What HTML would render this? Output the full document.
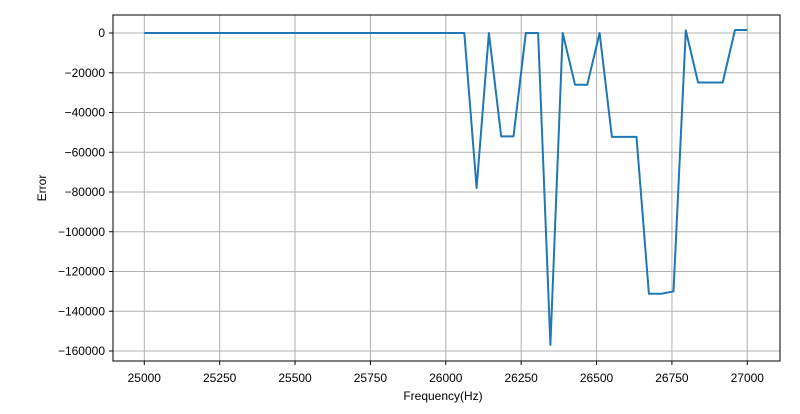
<!DOCTYPE html>
<html><head><meta charset="utf-8"><style>
body{margin:0;background:#fff;}
svg text{font-family:"Liberation Sans","WenQuanYi Zen Hei",sans-serif;font-size:12px;fill:#000;}
</style></head><body>
<svg width="800" height="409" xmlns="http://www.w3.org/2000/svg">
<g id="grid"></g>
<g id="ticks"></g>
<path id="line" fill="none" stroke="#1f77b4" stroke-width="2" stroke-linejoin="round"/>
<rect x="113" y="15" width="667" height="346" fill="none" stroke="#000" stroke-width="1"/>
<text x="443" y="400" text-anchor="middle">Frequency(Hz)</text>
<text transform="translate(46,188) rotate(-90)" text-anchor="middle">Error</text>
</svg>
<script>
const xTicks=[25000,25250,25500,25750,26000,26250,26500,26750,27000];
const yTicks=[0,-20000,-40000,-60000,-80000,-100000,-120000,-140000,-160000];
const tail=[-78000,0,-52000,-52000,0,0,-157000,0,-26000,-26000,0,-52300,-52300,-52300,-131200,-131200,-130000,1300,-24900,-24900,-24900,1500,1500];
const values=new Array(27).fill(0).concat(tail);
const N=values.length;
const freqs=values.map((v,i)=>25000+i*2000/(N-1));
function xs(f){return 144.3+(f-25000)/2000*603;}
function ys(v){return 33+(-v)/160000*318;}
const ns="http://www.w3.org/2000/svg";
const grid=document.getElementById('grid'),ticks=document.getElementById('ticks');
function mk(t,a,p){const e=document.createElementNS(ns,t);for(const k in a)e.setAttribute(k,a[k]);p.appendChild(e);return e;}
xTicks.forEach(t=>{const x=xs(t);
const g=mk('line',{x1:x,x2:x,y1:15,y2:361,stroke:'#b0b0b0','stroke-width':1},grid);


mk('line',{x1:x,x2:x,y1:361,y2:365,stroke:'#000'},ticks);
const l=mk('text',{x:x,y:382,'text-anchor':'middle'},ticks);l.textContent=t;

});
yTicks.forEach(t=>{const y=ys(t);
const g=mk('line',{x1:113,x2:780,y1:y,y2:y,stroke:'#b0b0b0','stroke-width':1},grid);


mk('line',{x1:109,x2:113,y1:y,y2:y,stroke:'#000'},ticks);
const l=mk('text',{x:105,y:y+4,'text-anchor':'end'},ticks);l.textContent=String(t).replace('-','\u2212');

});
document.getElementById('line').setAttribute('d',values.map((v,i)=>(i?'L':'M')+xs(freqs[i]).toFixed(1)+','+ys(v).toFixed(1)).join(''));
</script>
</body></html>
